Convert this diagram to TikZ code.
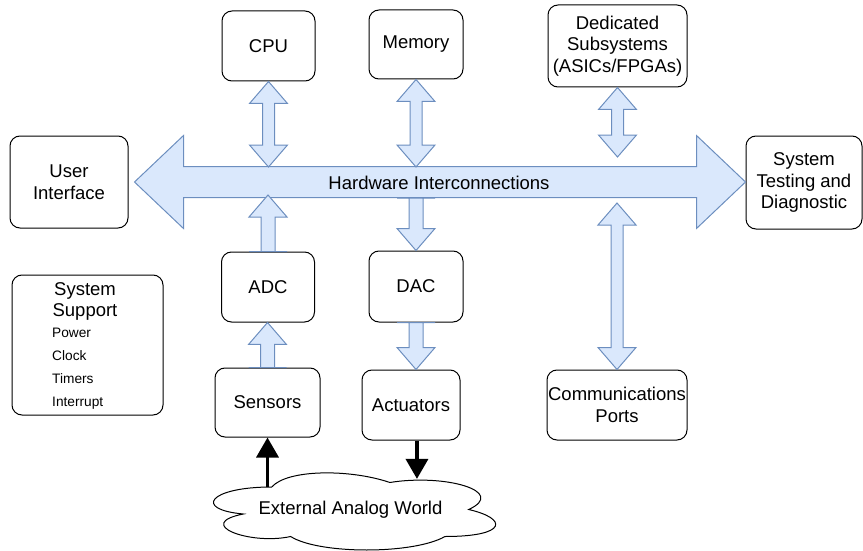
\documentclass[tikz,border=0pt]{standalone}
\usepackage{fontspec}
\setmainfont{Liberation Sans}
\usetikzlibrary{arrows.meta,positioning,calc}
\definecolor{busfill}{HTML}{DAE8FC}
\definecolor{busline}{HTML}{6C8EBF}

% wide vertical arrows between blocks
\newcommand\fatsingle[2]{%
  \filldraw[fat] let \p1=(#1), \p2=(#2), \p3=($(#2)!22pt!(#1)$) in
    (\x1-7pt,\y1) -- (\x1-7pt,\y3) -- (\x1-19pt,\y3) -- (\x1,\y2)
    -- (\x1+19pt,\y3) -- (\x1+7pt,\y3) -- (\x1+7pt,\y1) -- cycle
    (\x1-19pt,\y1) -- (\x1+19pt,\y1);}
\newcommand\fatdouble[2]{%
  \filldraw[fat] let \p1=(#1), \p2=(#2), \p3=($(#1)!22pt!(#2)$),
    \p4=($(#2)!22pt!(#1)$) in
    (\x1,\y1) -- (\x1+19pt,\y3) -- (\x1+6pt,\y3) -- (\x1+6pt,\y4)
    -- (\x1+19pt,\y4) -- (\x1,\y2) -- (\x1-19pt,\y4) -- (\x1-6pt,\y4)
    -- (\x1-6pt,\y3) -- (\x1-19pt,\y3) -- cycle;}

\begin{document}
\begin{tikzpicture}[x=1pt,y=-1pt,
  txt/.style={font=\fontsize{18.5}{21.5}\selectfont},
  box/.style={txt,draw,rounded corners=10pt,align=center,line width=1pt,
              inner sep=0pt},
  fat/.style={draw=busline,fill=busfill,line width=1pt,line join=miter},
  world/.style={-{Triangle[length=20pt,width=22pt]},line width=3.5pt}]
\useasboundingbox (0,0) rectangle (863,551);

\node[box,minimum width=93,minimum height=70] (cpu) at (268.5,46) {CPU};
\node[box,minimum width=94,minimum height=69] (memory) at (416,44.5) {Memory};
\node[box,minimum width=139,minimum height=82] (dedicated) at (617.5,46)
  {Dedicated\\Subsystems\\(ASICs/FPGAs)};
\node[box,minimum width=118,minimum height=92] (ui) at (69,182) {User\\Interface};
\node[box,minimum width=116,minimum height=93] (testing) at (804,182.5)
  {System\\Testing and\\Diagnostic};
\node[box,minimum width=93,minimum height=70] (adc) at (268,287) {ADC};
\node[box,minimum width=94,minimum height=71] (dac) at (416,286.5) {DAC};
\node[box,minimum width=105,minimum height=69] (sensors) at (267.5,402.5) {Sensors};
\node[box,minimum width=98,minimum height=70] (actuators) at (411,405) {Actuators};
\node[box,minimum width=140,minimum height=70] (comms) at (617,405)
  {Communications\\Ports};

% system support block
\node[box,minimum width=151,minimum height=140] (support) at (87.5,345) {};
\node[txt,align=center,anchor=north] (supporttitle) at (85,279) {System\\Support};
\node[font=\fontsize{13.7}{23}\selectfont,align=left,anchor=north west,inner sep=0pt]
  (supportlist) at (52,328) {Power\\Clock\\Timers\\Interrupt};

% cloud
\begin{scope}[shift={(193,464.5)},x=315pt,y=-90pt]
\draw[line width=1pt,fill=white] (0.25,0.25)
  .. controls (0.05,0.25) and (0,0.5) .. (0.16,0.55)
  .. controls (0,0.66) and (0.18,0.9) .. (0.31,0.8)
  .. controls (0.4,1) and (0.7,1) .. (0.8,0.8)
  .. controls (1,0.8) and (1,0.6) .. (0.875,0.5)
  .. controls (1,0.3) and (0.8,0.1) .. (0.625,0.2)
  .. controls (0.5,0.05) and (0.3,0.05) .. (0.25,0.25) -- cycle;
\coordinate (worldout) at (0.25,0.25);
\coordinate (worldin) at (0.711,0.16);
\node[txt] (world) at (0.5,0.5) {External Analog World};
\end{scope}

% hardware interconnections bus
\filldraw[fat] let \p1=([xshift=6pt]ui.east), \p2=(testing.west) in
  (\x1,\y1) -- (\x1+49pt,\y1+46.5pt) -- (\x1+49pt,\y1+15.5pt)
  -- (\x2-49pt,\y1+15.5pt) -- (\x2-49pt,\y1+46.5pt) -- (\x2,\y1)
  -- (\x2-49pt,\y1-46.5pt) -- (\x2-49pt,\y1-15.5pt)
  -- (\x1+49pt,\y1-15.5pt) -- (\x1+49pt,\y1-46.5pt) -- cycle;
\node[txt] (bus) at (439,183) {Hardware Interconnections};
\coordinate (bustop) at ($(bus.center)+(0,-16)$);
\coordinate (busbot) at ($(bus.center)+(0,15)$);

\coordinate (cpubus) at (cpu.south |- bustop);
\coordinate (memorybus) at (memory.south |- bustop);
\coordinate (dedicatedbus) at ($(dedicated.south |- bustop)+(0,-10)$);
\coordinate (adcbus) at ($(adc.north |- busbot)+(0,-3)$);
\coordinate (dacbus) at (dac.north |- busbot);
\coordinate (commsbus) at ($(comms.north |- busbot)+(0,5)$);
\coordinate (dacout) at (dac.south);
\coordinate (actin) at (dac.south |- actuators.north);

\fatdouble{cpu.south}{cpubus}
\fatdouble{memory.south}{memorybus}
\fatdouble{dedicated.south}{dedicatedbus}
\fatdouble{comms.north}{commsbus}
\fatsingle{adc.north}{adcbus}
\fatsingle{dacbus}{dac.north}
\fatsingle{sensors.north}{adc.south}
\fatsingle{dacout}{actin}

\draw[world] (sensors.south |- worldout) -- (sensors.south);
\draw[world] (actuators.south -| worldin) -- (worldin);
\end{tikzpicture}
\end{document}
